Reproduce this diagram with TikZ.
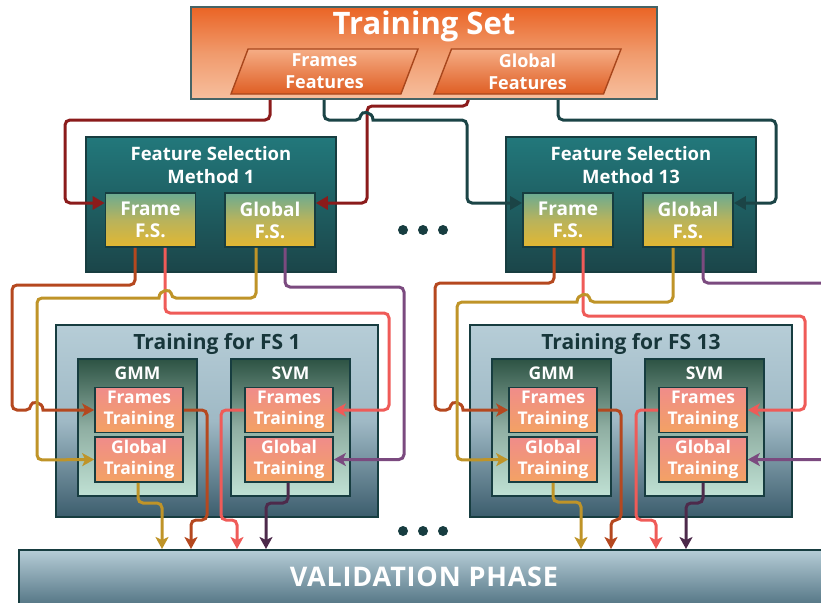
\documentclass[tikz,border=0pt]{standalone}
\usepackage{fontspec}
\setmainfont{Open Sans}
\usetikzlibrary{shapes.geometric,arrows.meta,calc}
\definecolor{bdr}{HTML}{173D40}
\definecolor{orTop}{HTML}{EA6425}
\definecolor{orMid}{HTML}{F09A6C}
\definecolor{orBot}{HTML}{F7BF9E}
\definecolor{pgTop}{HTML}{F5AD85}
\definecolor{pgBot}{HTML}{DF5E24}
\definecolor{pgBdr}{HTML}{A8461C}
\definecolor{fsTop}{HTML}{22787B}
\definecolor{fsBot}{HTML}{1B4549}
\definecolor{ffTop}{HTML}{6BAB92}
\definecolor{ffMid}{HTML}{B8B35C}
\definecolor{ffBot}{HTML}{E3B731}
\definecolor{trTop}{HTML}{B6CDD7}
\definecolor{trMid}{HTML}{9FB9C5}
\definecolor{trBot}{HTML}{3C5D6D}
\definecolor{gmTop}{HTML}{2D5344}
\definecolor{gmMid}{HTML}{8FAEA2}
\definecolor{gmBot}{HTML}{C0E1D4}
\definecolor{lfTop}{HTML}{F08C8A}
\definecolor{lfBot}{HTML}{F3A264}
\definecolor{vaTop}{HTML}{B6CDD7}
\definecolor{vaBot}{HTML}{3A5E6F}
\definecolor{ttl}{HTML}{17363A}
\definecolor{cDR}{HTML}{8B1B1B}
\definecolor{cTE}{HTML}{1B4446}
\definecolor{cOR}{HTML}{B5481F}
\definecolor{cSA}{HTML}{EF5B58}
\definecolor{cGO}{HTML}{BF9428}
\definecolor{cPU}{HTML}{7B4A7F}
\definecolor{cPD}{HTML}{4D2A4B}
\newcommand\fsz[2]{\fontsize{#1}{#2}\selectfont\bfseries}
\begin{document}
\begin{tikzpicture}[x=1pt,y=-1pt,
  boxbase/.style={rectangle, draw=bdr, line width=1.6pt, inner sep=0pt},
  tsbox/.style={boxbase, draw=bdr!80, top color=orTop, bottom color=orBot, middle color=orMid},
  pgram/.style={trapezium, trapezium left angle=64, trapezium right angle=116, trapezium stretches body,
     draw=pgBdr, line width=1.4pt, top color=pgTop, bottom color=pgBot, inner sep=0pt,
     minimum width=187pt, minimum height=45pt, text=white, align=center, font=\fsz{18}{22}},
  fsbox/.style={boxbase, top color=fsTop, bottom color=fsBot, minimum width=250pt, minimum height=135pt},
  selbox/.style={boxbase, top color=ffTop, bottom color=ffBot, middle color=ffMid, minimum width=90pt, minimum height=54pt,
     text=white, align=center, font=\fsz{19}{22}},
  trbox/.style={boxbase, top color=trTop, bottom color=trBot, middle color=trMid, minimum width=322pt, minimum height=192pt},
  mdbox/.style={boxbase, top color=gmTop, bottom color=gmBot, middle color=gmMid, minimum width=119pt, minimum height=137pt},
  lfbox/.style={boxbase, top color=lfTop, bottom color=lfBot, minimum width=88pt, minimum height=45pt,
     text=white, align=center, font=\fsz{17.5}{21}},
  wlabel/.style={text=white, inner sep=0pt, align=center},
  conn/.style={line width=3pt, rounded corners=5pt},
  inarr/.style={-{Triangle[length=12pt,width=13pt]}},
  outarr/.style={-{Stealth[length=12pt,width=13pt,inset=3pt]}},
  dot/.style={circle, fill=bdr, inner sep=0pt, minimum size=10pt}
]
\useasboundingbox (0,0) rectangle (821,602);
\clip (0,0) rectangle (821,602);

% ---------- Training set ----------
\node[tsbox, minimum width=466pt, minimum height=92pt] (ts) at (424,53) {};
\node[wlabel, anchor=base, font=\fsz{31}{36}] (tst) at (424,35) {Training Set};
\node[pgram] (ff) at (324.5,71.5) {Frames\\Features};
\node[pgram] (gf) at (527.5,71.5) {Global\\Features};

% ---------- Feature selection ----------
\node[fsbox] (fs1) at (211,204.5) {};
\node[wlabel, font=\fsz{18.5}{23}] (fs1t) at (211,165) {Feature Selection\\Method 1};
\node[selbox] (fs1f) at (150.5,220) {Frame\\F.S.};
\node[selbox] (fs1g) at (270,220) {Global\\F.S.};

\node[fsbox] (fs13) at (631,204.5) {};
\node[wlabel, font=\fsz{18.5}{23}] (fs13t) at (631,165) {Feature Selection\\Method 13};
\node[selbox] (fs13f) at (568,220) {Frame\\F.S.};
\node[selbox] (fs13g) at (688,220) {Global\\F.S.};

\node[dot] (d1) at (403,230) {};
\node[dot] (d2) at (423,230) {};
\node[dot] (d3) at (443,230) {};

% ---------- Training blocks ----------
\node[trbox] (tr1) at (217,421) {};
\node[anchor=base, inner sep=0pt, text=ttl, font=\fsz{21}{25}] (tr1t) at (217,349) {Training for FS 1};
\node[mdbox] (gmm1) at (137.5,427.5) {};
\node[wlabel, anchor=base, font=\fsz{17.5}{21}] (gmm1t) at (137.5,379) {GMM};
\node[lfbox] (gmm1f) at (139,410) {Frames\\Training};
\node[lfbox] (gmm1g) at (139,459.5) {Global\\Training};
\node[mdbox] (svm1) at (290.5,427.5) {};
\node[wlabel, anchor=base, font=\fsz{17.5}{21}] (svm1t) at (290.5,379) {SVM};
\node[lfbox] (svm1f) at (289,410) {Frames\\Training};
\node[lfbox] (svm1g) at (289,459.5) {Global\\Training};

\node[trbox] (tr13) at (631,421) {};
\node[anchor=base, inner sep=0pt, text=ttl, font=\fsz{21}{25}] (tr13t) at (631,349) {Training for FS 13};
\node[mdbox] (gmm13) at (551.5,427.5) {};
\node[wlabel, anchor=base, font=\fsz{17.5}{21}] (gmm13t) at (551.5,379) {GMM};
\node[lfbox] (gmm13f) at (553,410) {Frames\\Training};
\node[lfbox] (gmm13g) at (553,459.5) {Global\\Training};
\node[mdbox] (svm13) at (704.5,427.5) {};
\node[wlabel, anchor=base, font=\fsz{17.5}{21}] (svm13t) at (704.5,379) {SVM};
\node[lfbox] (svm13f) at (703,410) {Frames\\Training};
\node[lfbox] (svm13g) at (703,459.5) {Global\\Training};

\node[dot] (e1) at (403,531) {};
\node[dot] (e2) at (423,531) {};
\node[dot] (e3) at (443,531) {};

% ---------- Validation ----------
\node[boxbase, top color=vaTop, bottom color=vaBot, minimum width=830pt, minimum height=70pt, anchor=north west] (val) at (18,549) {};
\node[wlabel, anchor=base, font={\fsz{27}{32}\addfontfeature{LetterSpace=3}}] (valtx) at (424,586) {VALIDATION PHASE};

% ---------- connectors: training set -> FS ----------
\draw[conn, cDR, inarr] ([xshift=-154pt]ts.south) |- (65,120) |- ([yshift=17pt]fs1f.west);
\draw[conn, cDR, inarr] ([xshift=44pt]ts.south) |- (367,106) |- ([yshift=17pt]fs1g.east);
\draw[conn, cTE, inarr] ([xshift=-100pt]ts.south) |- (361,120) [sharp corners] .. controls (361,111) and (373,111) .. (373,120) [rounded corners=5pt] -| (467,203) -- ([yshift=17pt]fs13f.west);
\draw[conn, cTE, inarr] ([xshift=134pt]ts.south) |- (776,120) |- ([yshift=17pt]fs13g.east);

% ---------- FS1 -> training 1 ----------
\draw[conn, cOR, outarr] ([xshift=-15.5pt]fs1f.south) |- (12,285) |- (31,410) [sharp corners] .. controls (31,401) and (43,401) .. (43,410) -- (gmm1f.west);
\draw[conn, cSA, outarr] ([xshift=14.5pt]fs1f.south) |- (389,313) |- (svm1f.east);
\draw[conn, cGO, outarr] ([xshift=-14pt]fs1g.south) |- (171,298) [sharp corners] .. controls (171,289) and (159,289) .. (159,298) [rounded corners=5pt] -| (37,460) -- (gmm1g.west);
\draw[conn, cPU, outarr] ([xshift=15pt]fs1g.south) |- (404,287) |- (svm1g.east);

% ---------- FS13 -> training 13 ----------
\draw[conn, cOR, outarr] ([xshift=-14pt]fs13f.south) |- (435,283) |- (451,410) [sharp corners] .. controls (451,401) and (463,401) .. (463,410) -- (gmm13f.west);
\draw[conn, cSA, outarr] ([xshift=15pt]fs13f.south) |- (805,316) |- (svm13f.east);
\draw[conn, cGO, outarr] ([xshift=-15pt]fs13g.south) |- (589,302) [sharp corners] .. controls (589,293) and (577,293) .. (577,302) [rounded corners=5pt] -| (457,460) -- (gmm13g.west);
\draw[conn, cPU, outarr] ([xshift=15pt]fs13g.south) |- (830,283) |- (svm13g.east);

% ---------- training 1 -> validation ----------
\draw[conn, cGO, outarr] ([xshift=-1pt]gmm1g.south) |- (162,503) -- (162,549);
\draw[conn, cOR, outarr] (gmm1f.east) -| (207,520) -| (191,549);
\draw[conn, cSA, outarr] (svm1f.west) -| (221,520) -| (237,549);
\draw[conn, cPD, outarr] ([xshift=-1pt]svm1g.south) |- (266,503) -- (266,549);

% ---------- training 13 -> validation ----------
\draw[conn, cGO, outarr] (gmm13g.south) |- (581,502) -- (581,549);
\draw[conn, cOR, outarr] (gmm13f.east) -| (621,520) -| (611,549);
\draw[conn, cSA, outarr] (svm13f.west) -| (636,520) -| (656,549);
\draw[conn, cPD, outarr] (svm13g.south) |- (686,503) -- (686,549);
\end{tikzpicture}
\end{document}
